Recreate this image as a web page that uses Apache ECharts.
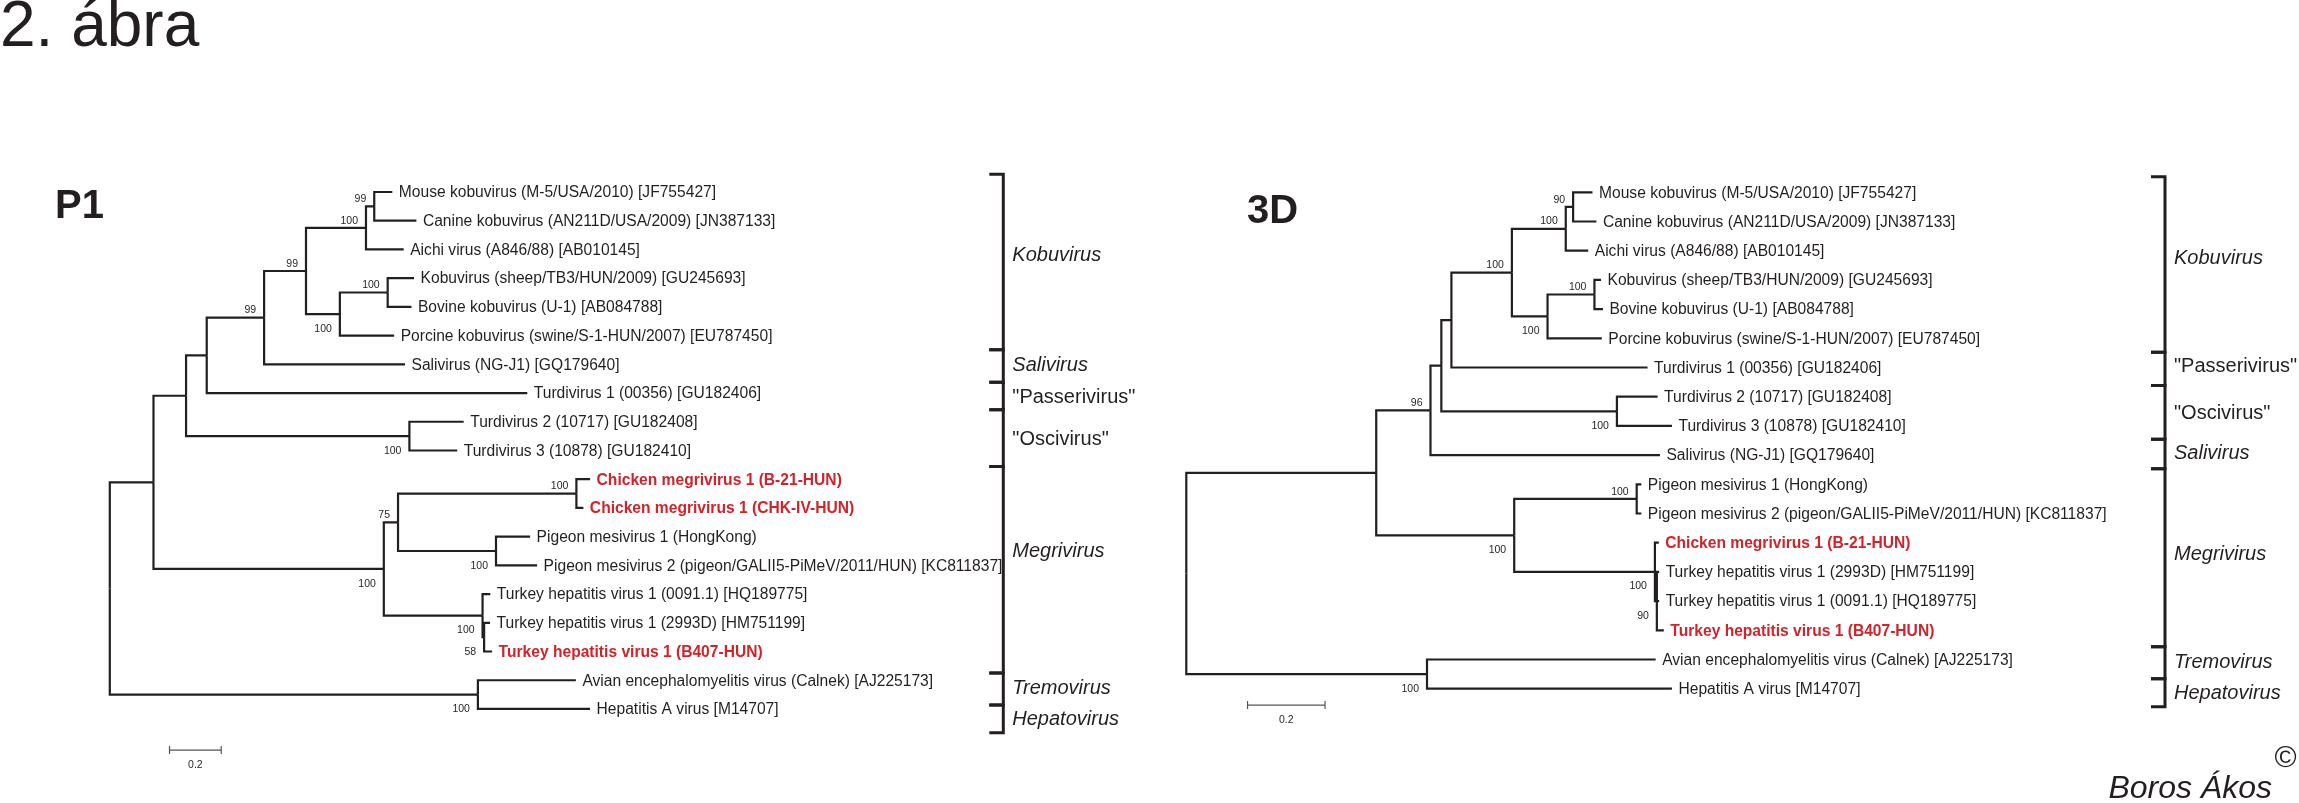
<!DOCTYPE html>
<html>
<head>
<meta charset="utf-8">
<script src="https://cdn.jsdelivr.net/npm/echarts@6/dist/echarts.min.js"></script>
<style>html,body{margin:0;padding:0;background:#fff}#chart{width:2299px;height:803px}</style>
</head>
<body>
<div id="chart"></div>
<script>
// ================= DATA: P1 tree =================
const p1Leaves = [
  'Mouse kobuvirus (M-5/USA/2010) [JF755427]',
  'Canine kobuvirus (AN211D/USA/2009) [JN387133]',
  'Aichi virus (A846/88) [AB010145]',
  'Kobuvirus (sheep/TB3/HUN/2009) [GU245693]',
  'Bovine kobuvirus (U-1) [AB084788]',
  'Porcine kobuvirus (swine/S-1-HUN/2007) [EU787450]',
  'Salivirus (NG-J1) [GQ179640]',
  'Turdivirus 1 (00356) [GU182406]',
  'Turdivirus 2 (10717) [GU182408]',
  'Turdivirus 3 (10878) [GU182410]',
  'Chicken megrivirus 1 (B-21-HUN)',
  'Chicken megrivirus 1 (CHK-IV-HUN)',
  'Pigeon mesivirus 1 (HongKong)',
  'Pigeon mesivirus 2 (pigeon/GALII5-PiMeV/2011/HUN) [KC811837]',
  'Turkey hepatitis virus 1 (0091.1) [HQ189775]',
  'Turkey hepatitis virus 1 (2993D) [HM751199]',
  'Turkey hepatitis virus 1 (B407-HUN)',
  'Avian encephalomyelitis virus (Calnek) [AJ225173]',
  'Hepatitis A virus [M14707]'
];
const p1LeafDepth = [1.093, 1.186, 1.137, 1.177, 1.167, 1.100, 1.142, 1.615, 1.369, 1.344,
                     1.858, 1.832, 1.626, 1.653, 1.472, 1.471, 1.479, 1.803, 1.858];
const p1LeafParent = ['G','G','F','I','I','H','D','C','J','J','M','M','N','N','O','P','P','Q','Q'];
const p1LeafNew = [false,false,false,false,false,false,false,false,false,false,
                   true,true,false,false,false,false,true,false,false];
const p1NodeIds     = ['root','A','B','C','D','E','F','G','H','I','J','K','L','M','N','O','P','Q'];
const p1NodeParent  = [null,'root','A','B','C','D','E','F','E','H','B','A','K','L','L','K','O','root'];
const p1NodeDepth   = [0, 0.169, 0.295, 0.375, 0.597, 0.759, 0.991, 1.023, 0.890, 1.075,
                       1.159, 1.060, 1.115, 1.805, 1.494, 1.442, 1.448, 1.424];
const p1NodeSupport = [null, null, null, null, 99, 99, 100, 99, 100, 100,
                       100, 100, 75, 100, 100, 100, 58, 100];
const p1Genera      = ['Kobuvirus', 'Salivirus', '"Passerivirus"', '"Oscivirus"', 'Megrivirus', 'Tremovirus', 'Hepatovirus'];
const p1GenusItalic = [true, true, false, false, true, true, true];
const p1GenusBounds = [-0.62, 5.49, 6.62, 7.58, 9.56, 16.75, 17.86, 18.83];
const p1GenusLabelRow = [2.2, 6.05, 7.16, 8.6, 12.5, 17.3, 18.36];
const p1ScaleBar = [0.231, 19.43, 0.2]; // start, row, length

// ================= DATA: 3D tree =================
const d3Leaves = [
  'Mouse kobuvirus (M-5/USA/2010) [JF755427]',
  'Canine kobuvirus (AN211D/USA/2009) [JN387133]',
  'Aichi virus (A846/88) [AB010145]',
  'Kobuvirus (sheep/TB3/HUN/2009) [GU245693]',
  'Bovine kobuvirus (U-1) [AB084788]',
  'Porcine kobuvirus (swine/S-1-HUN/2007) [EU787450]',
  'Turdivirus 1 (00356) [GU182406]',
  'Turdivirus 2 (10717) [GU182408]',
  'Turdivirus 3 (10878) [GU182410]',
  'Salivirus (NG-J1) [GQ179640]',
  'Pigeon mesivirus 1 (HongKong)',
  'Pigeon mesivirus 2 (pigeon/GALII5-PiMeV/2011/HUN) [KC811837]',
  'Chicken megrivirus 1 (B-21-HUN)',
  'Turkey hepatitis virus 1 (2993D) [HM751199]',
  'Turkey hepatitis virus 1 (0091.1) [HQ189775]',
  'Turkey hepatitis virus 1 (B407-HUN)',
  'Avian encephalomyelitis virus (Calnek) [AJ225173]',
  'Hepatitis A virus [M14707]'
];
const d3LeafDepth = [1.048, 1.058, 1.037, 1.070, 1.075, 1.072, 1.190, 1.216, 1.253, 1.222,
                     1.174, 1.174, 1.219, 1.220, 1.220, 1.232, 1.211, 1.253];
const d3LeafParent = ['G','G','F','I','I','H','D','J','J','B','L','L','M','N','N','N','Q','Q'];
const d3LeafNew = [false,false,false,false,false,false,false,false,false,false,
                   false,false,true,false,false,true,false,false];
const d3NodeIds     = ['root','A','B','C','D','E','F','G','H','I','J','K','L','M','N','Q'];
const d3NodeParent  = [null,'root','A','B','C','D','E','F','E','H','C','A','K','K','M','root'];
const d3NodeDepth   = [0, 0.490, 0.630, 0.658, 0.684, 0.840, 0.979, 0.998, 0.932, 1.053,
                       1.111, 0.846, 1.162, 1.209, 1.214, 0.621];
const d3NodeSupport = [null, null, 96, null, null, 100, 100, 90, 100, 100,
                       100, 100, 100, 100, 90, 100];
const d3Genera      = ['Kobuvirus', '"Passerivirus"', '"Oscivirus"', 'Salivirus', 'Megrivirus', 'Tremovirus', 'Hepatovirus'];
const d3GenusItalic = [true, false, false, true, true, true, true];
const d3GenusBounds = [-0.53, 5.48, 6.62, 8.46, 9.47, 15.56, 16.66, 17.62];
const d3GenusLabelRow = [2.28, 5.95, 7.57, 8.96, 12.4, 16.1, 17.15];
const d3ScaleBar = [0.158, 17.56, 0.2];

const figureTitle = '2. ábra';
const panelTitles = ['P1', '3D'];
const credit = 'Boros Ákos';

// ================= helpers =================
const FONT = '"Liberation Sans", Arial, Helvetica, sans-serif';
const INK = '#231f20';
const RED = '#d2232a';

function buildTree(leaves, leafDepth, leafParent, nodeIds, nodeParent, nodeDepth, nodeSupport) {
  const idx = {};
  nodeIds.forEach((id, i) => { idx[id] = i; });
  const children = nodeIds.map(() => []);
  leafParent.forEach((p, i) => children[idx[p]].push({ leaf: true, i }));
  nodeParent.forEach((p, i) => { if (p !== null) children[idx[p]].push({ leaf: false, i }); });
  const nodeY = new Array(nodeIds.length);
  function computeY(i) {
    if (nodeY[i] !== undefined) return nodeY[i];
    const ys = children[i].map(c => c.leaf ? c.i : computeY(c.i));
    nodeY[i] = (Math.min(...ys) + Math.max(...ys)) / 2;
    return nodeY[i];
  }
  nodeIds.forEach((_, i) => computeY(i));
  const edges = [];
  leafParent.forEach((p, i) => {
    const pi = idx[p];
    edges.push([nodeDepth[pi], nodeY[pi], leafDepth[i], i]);
  });
  nodeParent.forEach((p, i) => {
    if (p === null) return;
    const pi = idx[p];
    edges.push([nodeDepth[pi], nodeY[pi], nodeDepth[i], nodeY[i]]);
  });
  const supData = [], supText = [], supBelow = [];
  nodeIds.forEach((id, i) => {
    if (nodeSupport[i] === null) return;
    const pi = idx[nodeParent[i]];
    supData.push([nodeDepth[i], nodeY[i]]);
    supText.push(String(nodeSupport[i]));
    supBelow.push(nodeY[i] > nodeY[pi]);
  });
  const leafData = leaves.map((_, i) => [leafDepth[i], i]);
  return { edges, supData, supText, supBelow, leafData };
}

function treeSeries(t, leaves, leafNew, genera, italic, bounds, labelRows, scaleBar, axisIdx, xMax) {
  const common = { type: 'custom', coordinateSystem: 'cartesian2d', xAxisIndex: axisIdx, yAxisIndex: axisIdx, silent: true, animation: false, clip: false };
  return [
    Object.assign({}, common, {
      data: t.edges,
      renderItem(params, api) {
        const p = api.coord([api.value(0), api.value(1)]);
        const c = api.coord([api.value(2), api.value(3)]);
        return { type: 'polyline', shape: { points: [[p[0], p[1]], [p[0], c[1]], [c[0], c[1]]] },
                 style: { stroke: INK, lineWidth: 2.2, fill: null, lineJoin: 'miter' } };
      }
    }),
    Object.assign({}, common, {
      data: t.leafData,
      renderItem(params, api) {
        const c = api.coord([api.value(0), api.value(1)]);
        const isNew = leafNew[params.dataIndex];
        return { type: 'text', style: { text: leaves[params.dataIndex], x: c[0] + 6.5, y: c[1] + 1,
                 align: 'left', verticalAlign: 'middle', fill: isNew ? RED : INK,
                 font: (isNew ? 'bold ' : '') + '15.6px ' + FONT } };
      }
    }),
    Object.assign({}, common, {
      data: t.supData,
      renderItem(params, api) {
        const c = api.coord([api.value(0), api.value(1)]);
        const below = t.supBelow[params.dataIndex];
        return { type: 'text', style: { text: t.supText[params.dataIndex], x: c[0] - 8, y: c[1] + (below ? 14.7 : -7.2),
                 align: 'right', verticalAlign: 'middle', fill: INK, font: '10.5px ' + FONT } };
      }
    }),
    Object.assign({}, common, {
      data: genera.map((g, i) => [xMax, bounds[i], bounds[i + 1], labelRows[i]]),
      renderItem(params, api) {
        const a = api.coord([api.value(0), api.value(1)]);
        const b = api.coord([api.value(0), api.value(2)]);
        const l = api.coord([api.value(0), api.value(3)]);
        const i = params.dataIndex;
        return { type: 'group', children: [
          { type: 'polyline', shape: { points: [[a[0] - 14, a[1]], [a[0], a[1]], [b[0], b[1]], [b[0] - 14, b[1]]] },
            style: { stroke: INK, lineWidth: 3, fill: null, lineJoin: 'miter' } },
          { type: 'text', style: { text: genera[i], x: l[0] + 9, y: l[1], align: 'left', verticalAlign: 'middle',
            fill: INK, font: (italic[i] ? 'italic ' : '') + '20px ' + FONT } }
        ] };
      }
    }),
    Object.assign({}, common, {
      data: [scaleBar],
      renderItem(params, api) {
        const a = api.coord([api.value(0), api.value(1)]);
        const b = api.coord([api.value(0) + api.value(2), api.value(1)]);
        return { type: 'group', children: [
          { type: 'line', shape: { x1: a[0], y1: a[1], x2: b[0], y2: b[1] }, style: { stroke: '#555', lineWidth: 1.2 } },
          { type: 'line', shape: { x1: a[0], y1: a[1] - 4, x2: a[0], y2: a[1] + 4 }, style: { stroke: '#555', lineWidth: 1.2 } },
          { type: 'line', shape: { x1: b[0], y1: b[1] - 4, x2: b[0], y2: b[1] + 4 }, style: { stroke: '#555', lineWidth: 1.2 } },
          { type: 'text', style: { text: String(api.value(2)), x: (a[0] + b[0]) / 2, y: a[1] + 15, align: 'center',
            verticalAlign: 'middle', fill: INK, font: '10.5px ' + FONT } }
        ] };
      }
    })
  ];
}

// ================= layout =================
const P1 = { left: 109.8, right: 1003.3, pxPerUnit: 258.5, row0: 192, rowH: 28.72, yMin: -1, yMax: 20 };
const D3 = { left: 1186.3, right: 2165, pxPerUnit: 387.6, row0: 192.3, rowH: 29.2, yMin: -1, yMax: 19 };
function gridOf(L) {
  return { left: L.left, width: L.right - L.left, top: L.row0 + L.yMin * L.rowH, height: (L.yMax - L.yMin) * L.rowH };
}
const p1XMax = (P1.right - P1.left) / P1.pxPerUnit;
const d3XMax = (D3.right - D3.left) / D3.pxPerUnit;

const t1 = buildTree(p1Leaves, p1LeafDepth, p1LeafParent, p1NodeIds, p1NodeParent, p1NodeDepth, p1NodeSupport);
const t2 = buildTree(d3Leaves, d3LeafDepth, d3LeafParent, d3NodeIds, d3NodeParent, d3NodeDepth, d3NodeSupport);

const chart = echarts.init(document.getElementById('chart'), null, { renderer: 'canvas' });
chart.setOption({
  backgroundColor: '#ffffff',
  animation: false,
  grid: [gridOf(P1), gridOf(D3)],
  xAxis: [
    { gridIndex: 0, type: 'value', min: 0, max: p1XMax, show: false },
    { gridIndex: 1, type: 'value', min: 0, max: d3XMax, show: false }
  ],
  yAxis: [
    { gridIndex: 0, type: 'value', min: P1.yMin, max: P1.yMax, inverse: true, show: false },
    { gridIndex: 1, type: 'value', min: D3.yMin, max: D3.yMax, inverse: true, show: false }
  ],
  graphic: [
    { type: 'text', style: { text: figureTitle, x: 0, y: 28.5, verticalAlign: 'middle', fill: INK, font: '64px ' + FONT } },
    { type: 'text', style: { text: panelTitles[0], x: 55, y: 206.5, verticalAlign: 'middle', fill: INK, font: 'bold 40px ' + FONT } },
    { type: 'text', style: { text: panelTitles[1], x: 1247, y: 212, verticalAlign: 'middle', fill: INK, font: 'bold 40px ' + FONT } },
    { type: 'text', style: { text: '©', x: 2285.5, y: 758.5, align: 'center', verticalAlign: 'middle', fill: INK, font: '30px ' + FONT } },
    { type: 'text', style: { text: credit, x: 2272, y: 789, align: 'right', verticalAlign: 'middle', fill: INK, font: 'italic 32px ' + FONT } }
  ],
  series: [].concat(
    treeSeries(t1, p1Leaves, p1LeafNew, p1Genera, p1GenusItalic, p1GenusBounds, p1GenusLabelRow, p1ScaleBar, 0, p1XMax),
    treeSeries(t2, d3Leaves, d3LeafNew, d3Genera, d3GenusItalic, d3GenusBounds, d3GenusLabelRow, d3ScaleBar, 1, d3XMax)
  )
});
</script>
</body>
</html>
